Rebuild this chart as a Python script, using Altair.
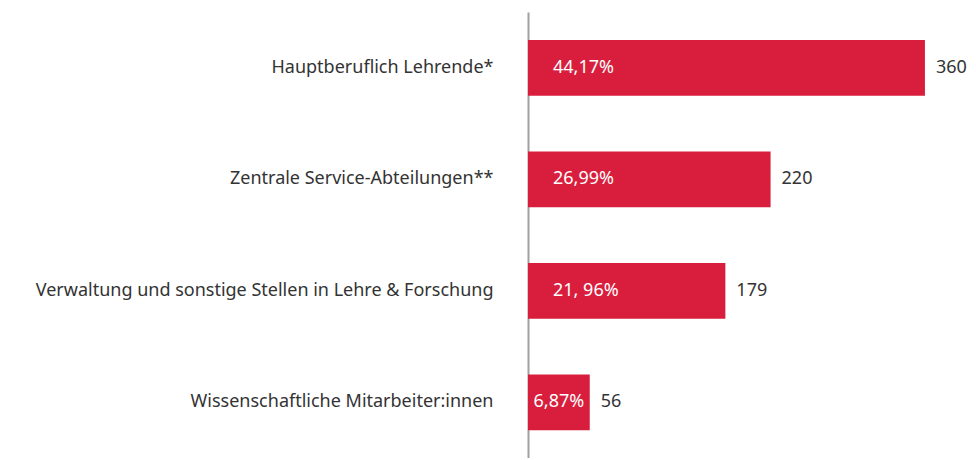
import altair as alt
import pandas as pd

categories = [
    "Hauptberuflich Lehrende*",
    "Zentrale Service-Abteilungen**",
    "Verwaltung und sonstige Stellen in Lehre & Forschung",
    "Wissenschaftliche Mitarbeiter:innen",
]
counts = [360, 220, 179, 56]
percents = ["44,17%", "26,99%", "21, 96%", "6,87%"]

df = pd.DataFrame({"cat": categories, "n": counts, "pct": percents})

FONT = "Noto Sans"
FS = 18
RED = "#d81e3c"
XS = alt.Scale(domain=[0, 380], nice=False)

y = alt.Y(
    "cat:N",
    sort=categories,
    title=None,
    scale=alt.Scale(paddingInner=0.5, paddingOuter=0.25),
    axis=alt.Axis(
        domainColor="#a0a0a0",
        domainWidth=2,
        ticks=False,
        labelPadding=35,
        labelFontSize=FS,
        labelFont=FONT,
        labelColor="#333333",
        labelLimit=700,
    ),
)

base = alt.Chart(df).transform_calculate(zero="0", half="datum.n / 2")
bars = base.mark_bar(color=RED).encode(x=alt.X("n:Q", title=None, scale=XS, axis=None), y=y)
values = base.mark_text(align="left", baseline="middle", dx=11, fontSize=FS, font=FONT, color="#333333").encode(
    x=alt.X("n:Q", scale=XS, axis=None), y=y, text="n:Q"
)
pct_left = base.transform_filter("datum.n > 100").mark_text(
    align="left", baseline="middle", dx=25, fontSize=FS, font=FONT, color="white"
).encode(x=alt.X("zero:Q", scale=XS, axis=None), y=y, text="pct:N")
pct_center = base.transform_filter("datum.n <= 100").mark_text(
    align="center", baseline="middle", fontSize=FS, font=FONT, color="white"
).encode(x=alt.X("half:Q", scale=XS, axis=None), y=y, text="pct:N")

chart = (
    alt.layer(bars, values, pct_left, pct_center)
    .properties(
        width=419,
        height=446,
        autosize=alt.AutoSizeParams(type="none"),
        padding={"left": 520, "top": 4, "right": 21, "bottom": 0},
    )
    .configure_view(stroke=None)
)

chart.save("out.html", embed_options={"renderer": "svg", "actions": False})
